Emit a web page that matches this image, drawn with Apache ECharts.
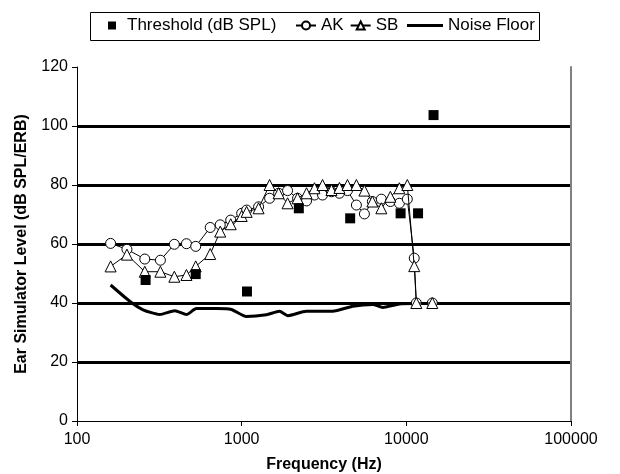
<!DOCTYPE html>
<html>
<head>
<meta charset="utf-8">
<script src="https://cdn.jsdelivr.net/npm/echarts@6/dist/echarts.min.js"></script>
<style>
  html, body { margin: 0; padding: 0; background: #fff; }
  #chart { width: 620px; height: 474px; }
</style>
</head>
<body>
<div id="chart"></div>
<script>
// threshold points (Hz, dB SPL)
const THR_FREQ = [261, 526, 1077, 2224, 4560, 9230, 11780, 14630];
const THR_VAL = [47.8, 49.8, 43.9, 72.1, 68.7, 70.4, 70.4, 103.7];

// AK / SB share the same frequencies
const FREQ = [160, 201, 258, 321, 390, 462, 526, 644, 741, 858,
  1000, 1072, 1267, 1478, 1676, 1900, 2185, 2477, 2768, 3098,
  3510, 3924, 4390, 4975, 5564, 6220, 7050, 7995, 9070, 10140,
  11170, 11500, 14380];
const AK = [60.2, 58.2, 54.9, 54.5, 59.9, 60.1, 59.2, 65.6, 66.5, 68.1,
  70.4, 71.5, 72.6, 75.5, 77.2, 78.1, 75.5, 74.6, 76.6, 76.6,
  77.7, 77.2, 78.1, 73.2, 70.2, 74.4, 75.2, 74.4, 73.8, 75.2,
  55.2, 40, 40];
const SB = [52.4, 56.4, 50.6, 50.6, 48.9, 49.5, 52.4, 56.6, 64.2, 66.7,
  69.5, 70.9, 72.1, 80, 77.2, 73.8, 75.5, 77.2, 78.9, 80,
  78.3, 79, 80, 80, 78.1, 74.4, 72.1, 76, 78.9, 80,
  52.5, 40, 40];

// noise floor
const NF_FREQ = [160, 209, 252, 318, 393, 462, 531, 703, 866, 1067,
  1413, 1698, 1909, 2467, 3574, 4731, 6252, 7180, 9080, 11170];
const NF = [46.1, 40.6, 37.7, 36.1, 37.4, 36.1, 38.1, 38.1, 37.8, 35.4,
  36.0, 37.2, 35.7, 37.2, 37.2, 38.9, 39.5, 38.5, 39.7, 39.8];

const X_TICKS = [100, 1000, 10000, 100000];
const Y_MIN = 0, Y_MAX = 120, Y_STEP = 20;

const zip = (xs, ys) => xs.map((x, i) => [x, ys[i]]);
const FONT = 'Liberation Sans, Arial, sans-serif';
const legendText = { fontFamily: FONT, fontSize: 17, color: '#000' };

const chart = echarts.init(document.getElementById('chart'), null, { renderer: 'canvas' });

chart.setOption({
  animation: false,
  backgroundColor: '#fff',
  textStyle: { fontFamily: FONT, color: '#000' },
  grid: { left: 77, right: 49, top: 67, bottom: 53, containLabel: false, outerBoundsMode: 'none' },
  // legend frame
  graphic: [{
    type: 'rect',
    shape: { x: 90.5, y: 12.5, width: 449, height: 28 },
    style: { fill: 'none', stroke: '#000', lineWidth: 1 },
    silent: true
  }],
  legend: [{
    top: 17, left: 108, padding: 0,
    icon: 'rect', itemWidth: 8, itemHeight: 8,
    textStyle: Object.assign({ padding: [0, 0, 0, 6] }, legendText),
    data: ['Threshold (dB SPL)']
  }, {
    top: 17, left: 295, padding: 0,
    itemWidth: 20, itemHeight: 10, itemGap: 6,
    textStyle: legendText,
    data: ['AK', 'SB']
  }, {
    top: 17, left: 407, padding: 0,
    icon: 'rect', itemWidth: 36, itemHeight: 3,
    textStyle: legendText,
    data: ['Noise Floor']
  }],
  xAxis: {
    type: 'log',
    logBase: 10,
    min: X_TICKS[0],
    max: X_TICKS[X_TICKS.length - 1],
    name: 'Frequency (Hz)',
    nameLocation: 'middle',
    nameGap: 36,
    nameTextStyle: { fontFamily: FONT, fontSize: 16, fontWeight: 'bold', color: '#000' },
    axisLine: { lineStyle: { color: '#000', width: 1 } },
    axisTick: { show: true, length: 5, lineStyle: { color: '#000' } },
    minorTick: { show: false },
    axisLabel: {
      fontFamily: FONT, fontSize: 16, color: '#000', margin: 11,
      formatter: v => String(Math.round(v))
    },
    splitLine: { show: false }
  },
  yAxis: [{
    type: 'value',
    min: Y_MIN,
    max: Y_MAX,
    interval: Y_STEP,
    name: 'Ear Simulator Level (dB SPL/ERB)',
    nameLocation: 'middle',
    nameGap: 47,
    nameTextStyle: { fontFamily: FONT, fontSize: 16, fontWeight: 'bold', color: '#000' },
    axisLine: { show: true, lineStyle: { color: '#000', width: 1 } },
    axisTick: { show: true, length: 5, lineStyle: { color: '#000' } },
    axisLabel: { fontFamily: FONT, fontSize: 16, color: '#000', margin: 9 },
    splitLine: {
      show: true,
      showMinLine: false,
      showMaxLine: false,
      lineStyle: { color: '#000', width: 3 }
    }
  }, {
    type: 'value',
    position: 'right',
    min: Y_MIN,
    max: Y_MAX,
    axisLine: { show: true, lineStyle: { color: '#808080', width: 2 } },
    axisTick: { show: false },
    axisLabel: { show: false },
    splitLine: { show: false }
  }],
  series: [
    {
      name: 'Threshold (dB SPL)',
      type: 'scatter',
      symbol: 'rect',
      symbolSize: 10,
      itemStyle: { color: '#000', opacity: 1 },
      data: zip(THR_FREQ, THR_VAL),
      z: 5
    },
    {
      name: 'AK',
      type: 'line',
      symbol: 'circle',
      symbolSize: 10,
      showAllSymbol: true,
      itemStyle: { color: '#fff', borderColor: '#000', borderWidth: 1 },
      lineStyle: { color: '#000', width: 1 },
      data: zip(FREQ, AK),
      z: 3
    },
    {
      name: 'SB',
      type: 'line',
      symbol: 'triangle',
      symbolSize: 11,
      showAllSymbol: true,
      itemStyle: { color: '#fff', borderColor: '#000', borderWidth: 1 },
      lineStyle: { color: '#000', width: 1 },
      data: zip(FREQ, SB),
      z: 4
    },
    {
      name: 'Noise Floor',
      type: 'line',
      symbol: 'none',
      smooth: 0.2,
      itemStyle: { color: '#000' },
      lineStyle: { color: '#000', width: 3 },
      data: zip(NF_FREQ, NF),
      z: 2
    }
  ]
});
</script>
</body>
</html>
